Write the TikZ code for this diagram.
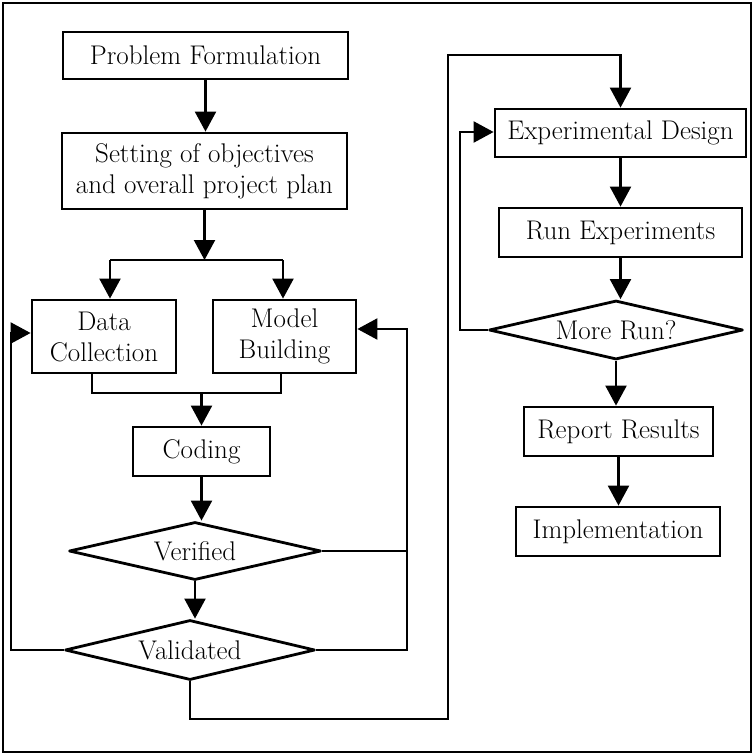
\documentclass[tikz,border=0pt]{standalone}
\usetikzlibrary{arrows.meta,shapes.geometric}
\newcommand\fsz{\fontsize{27}{31}\selectfont}
\begin{document}
\begin{tikzpicture}[x=1pt,y=-1pt,
  box/.style={draw, line width=2.8pt, inner sep=0pt, align=center, font=\fsz},
  dia/.style={draw, diamond, aspect=4.3, line width=2.8pt, line join=round, inner sep=0pt, font=\fsz},
  conn/.style={line width=2.2pt},
  arr/.style={line width=2.2pt, -{Triangle[length=20pt,width=21pt]}},
]
\useasboundingbox (0,0) rectangle (754,755);
\draw[line width=2.8pt] (3,3) rectangle (751,752);

% left column
\node[box, minimum width=285pt, minimum height=47pt] (pf) at (205.5,55.5) {Problem Formulation};
\node[box, minimum width=285pt, minimum height=76pt] (set) at (204.5,171) {Setting of objectives\\and overall project plan};
\node[box, minimum width=144pt, minimum height=73pt] (data) at (104,336.5) {Data\\Collection};
\node[box, minimum width=143pt, minimum height=73pt] (model) at (284.5,336.5) {Model\\Building};
\node[box, minimum width=137pt, minimum height=49pt] (cod) at (201.5,451.5) {Coding};
\node[dia, minimum width=252pt, minimum height=58pt] (ver) at (195,551) {Verified};
\node[dia, minimum width=250pt, minimum height=60pt] (val) at (190,650) {Validated};

% right column
\node[box, minimum width=251pt, minimum height=48pt] (ed) at (620.5,133) {Experimental Design};
\node[box, minimum width=243pt, minimum height=49pt] (re) at (620.5,232.5) {Run Experiments};
\node[dia, minimum width=254pt, minimum height=59pt] (mr) at (616,330) {More Run?};
\node[box, minimum width=189pt, minimum height=49pt] (rr) at (618.5,431.5) {Report Results};
\node[box, minimum width=204pt, minimum height=49pt] (imp) at (618,531.5) {Implementation};

% junction coordinates
\coordinate (spl) at (110,260);
\coordinate (spr) at (283,260);
\coordinate (mgl) at (92,393);
\coordinate (mgr) at (281,393);
\coordinate (mg) at (201.5,393);
\coordinate (rl) at (407,329);
\coordinate (ll) at (11,333);
\coordinate (bt) at (448,719);
\coordinate (tp) at (448,55);
\coordinate (ml) at (460,132);

% connectors left
\draw[arr] (pf.south) -- (pf.south |- set.north);
\draw[arr] (set.south) -- (set.south |- spl);
\draw[conn] (spl) -- (spr);
\draw[arr] (spl) -- (spl |- data.north);
\draw[arr] (spr) -- (spr |- model.north);
\draw[conn] (mgl |- data.south) -- (mgl) -- (mgr) -- (mgr |- model.south);
\draw[arr] (mg) -- (mg |- cod.north);
\draw[arr] (cod.south) -- (cod.south |- ver.north);
\draw[arr] (ver.south) -- (ver.south |- val.north);
\draw[conn] (ver.east) -- (ver.east -| rl);
\draw[arr] (val.east) -| (rl) -- (rl -| model.east);
\draw[arr] (val.west) -| (ll) -- (ll -| data.west);
\draw[arr] (val.south) |- (bt) -- (tp) -| (ed.north);

% connectors right
\draw[arr] (ed.south) -- (ed.south |- re.north);
\draw[arr] (re.south) -- (re.south |- mr.north);
\draw[arr] (mr.south) -- (mr.south |- rr.north);
\draw[arr] (rr.south) -- (rr.south |- imp.north);
\draw[arr] (mr.west) -| (ml) -- (ml -| ed.west);
\end{tikzpicture}
\end{document}
